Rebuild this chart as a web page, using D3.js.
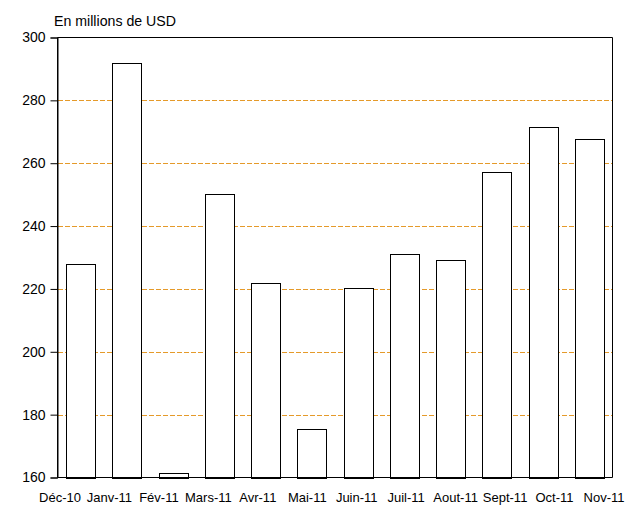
<!DOCTYPE html>
<html>
<head>
<meta charset="utf-8">
<script src="https://cdn.jsdelivr.net/npm/d3@7"></script>
<style>
  html, body { margin: 0; padding: 0; background: #fff; }
  svg { display: block; font-family: "Liberation Sans", Arial, sans-serif; }
</style>
</head>
<body>
<svg id="chart" width="640" height="508"></svg>
<script>
const categories = ["Déc-10","Janv-11","Fév-11","Mars-11","Avr-11","Mai-11","Juin-11","Juil-11","Aout-11","Sept-11","Oct-11","Nov-11"];
const values = [228, 292, 161.5, 250.3, 221.9, 175.4, 220.3, 231.2, 229.2, 257.2, 271.6, 267.6];
const yTicks = [160, 180, 200, 220, 240, 260, 280, 300];
const gridTicks = [180, 200, 220, 240, 260, 280];
const unitLabel = "En millions de USD";

(function () {
const svg = d3.select("#chart");
const pLeft = 57.5, pRight = 612.5, pTop = 37.5, pBottom = 477.5;

const x = d3.scaleBand().domain(categories).range([pLeft, pRight])
  .paddingInner(0.37).paddingOuter(0.185);
const xLabel = d3.scalePoint().domain(categories).range([60, 604]);
const y = d3.scaleLinear().domain([160, 300]).range([pBottom, pTop]);

// gridlines
svg.append("g").selectAll("line").data(gridTicks).join("line")
  .attr("x1", pLeft).attr("x2", pRight)
  .attr("y1", d => Math.round(y(d)) + 0.5).attr("y2", d => Math.round(y(d)) + 0.5)
  .attr("stroke", "#E59A2A").attr("stroke-width", 1)
  .attr("shape-rendering", "crispEdges")
  .attr("stroke-dasharray", "5,2");

// bars
svg.append("g").selectAll("rect").data(values).join("rect")
  .attr("x", (d, i) => Math.round(x(categories[i])) + 0.5)
  .attr("y", d => Math.round(y(d)) + 0.5)
  .attr("width", Math.round(x.bandwidth()))
  .attr("height", d => Math.round(pBottom) - Math.round(y(d)))
  .attr("fill", "#fff").attr("stroke", "#000").attr("stroke-width", 1);

// frame
svg.append("path")
  .attr("d", `M${pLeft},${pTop}H${pRight}V${pBottom}H${pLeft}Z`)
  .attr("fill", "none").attr("stroke", "#000").attr("stroke-width", 1);

// y axis
const yAxis = d3.axisLeft(y).tickValues(yTicks).tickSize(7).tickPadding(5).tickFormat(d3.format("d"));
const gy = svg.append("g").attr("transform", `translate(${pLeft},0)`).call(yAxis);
gy.select(".domain").attr("stroke", "#000");
gy.selectAll(".tick line").attr("stroke", "#000");
gy.selectAll("text").attr("font-size", 14).attr("fill", "#000")
  .attr("font-family", "'Liberation Sans', Arial, sans-serif");

// x labels
svg.append("g").selectAll("text").data(categories).join("text")
  .attr("x", d => xLabel(d)).attr("y", 502)
  .attr("text-anchor", "middle").attr("font-size", 13).attr("fill", "#000")
  .text(d => d);

// unit label
svg.append("text").attr("x", 54).attr("y", 26)
  .attr("font-size", 14).attr("fill", "#000")
  .attr("textLength", 122).attr("lengthAdjust", "spacingAndGlyphs")
  .text(unitLabel);
})();
</script>
</body>
</html>
